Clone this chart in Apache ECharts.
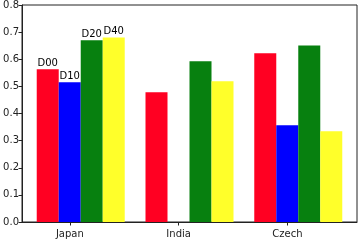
<!DOCTYPE html>
<html><head><meta charset="utf-8">
<script src="https://cdn.jsdelivr.net/npm/echarts@6/dist/echarts.min.js"></script>
<style>html,body{margin:0;padding:0;background:#fff}#c{width:362px;height:241px}</style>
</head><body><div id="c"></div>
<script>
var categories = ['Japan', 'India', 'Czech'];
var seriesNames = ['D00', 'D10', 'D20', 'D40'];
var d00 = [0.563, 0.478, 0.622];
var d10 = [0.515, null, 0.357];
var d20 = [0.670, 0.593, 0.651];
var d40 = [0.680, 0.519, 0.335];
var yTicks = [0.0, 0.1, 0.2, 0.3, 0.4, 0.5, 0.6, 0.7, 0.8];
var colors = ['#ff0022', '#0000ff', '#07800f', '#ffff2a'];

var allValues = [d00, d10, d20, d40];
var font = 'DejaVu Sans';
var chart = echarts.init(document.getElementById('c'), null, {renderer: 'canvas'});
var series = allValues.map(function (vals, s) {
  return {
    name: seriesNames[s],
    type: 'bar',
    xAxisIndex: 0,
    barWidth: 22,
    barGap: '0%',
    itemStyle: {color: colors[s]},
    label: {show: false, position: 'top', distance: 1, color: '#000', fontFamily: font, fontSize: 10, formatter: function (p) { return p.seriesName; }},
    data: vals.map(function (v, i) {
      if (v === null) return [i, '-'];
      if (i === 0) return {value: [i, v], label: {show: true}};
      return [i, v];
    })
  };
});
chart.setOption({
  animation: false,
  grid: {left: 22, right: 5, top: 5, bottom: 19, show: true, borderColor: '#222', borderWidth: 1, backgroundColor: 'transparent'},
  xAxis: [{
    type: 'value', min: -0.54, max: 2.54, show: false,
    splitLine: {show: false}
  }, {
    type: 'value', min: -0.44, max: 2.64, position: 'bottom',
    splitLine: {show: false},
    axisLine: {show: true, onZero: false, lineStyle: {color: '#222', width: 1}},
    axisTick: {show: true, customValues: [0, 1, 2], length: 3.5, lineStyle: {color: '#222'}},
    axisLabel: {show: true, customValues: [0, 1, 2], color: '#222', fontFamily: font, fontSize: 10, margin: 7,
      formatter: function (v) { return categories[Math.round(v)]; }}
  }],
  yAxis: {
    type: 'value', min: 0, max: 0.8, interval: 0.1,
    splitLine: {show: false},
    axisLine: {show: true, onZero: false, lineStyle: {color: '#222', width: 1}},
    axisTick: {show: true, length: 3.5, lineStyle: {color: '#222'}},
    axisLabel: {color: '#222', fontFamily: font, fontSize: 10, margin: 3,
      formatter: function (v) { return yTicks.indexOf(Math.round(v*10)/10) >= 0 ? v.toFixed(1) : ''; }}
  },
  series: series
});
</script></body></html>
